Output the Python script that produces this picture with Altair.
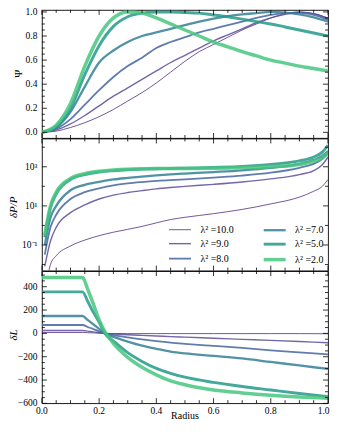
import altair as alt
import pandas as pd

# ---------------- data ----------------
LAMBDA_SQ = ["10.0", "9.0", "8.0", "7.0", "5.0", "2.0"]
LINE_COLORS = ["#5b3a87", "#5a4c9a", "#44659f", "#347f98", "#23998a", "#48c57f"]
LINE_WIDTHS = [1.0, 1.4, 1.8, 2.3, 2.9, 3.5]

RADIUS_PSI = [0.0, 0.05, 0.1, 0.15, 0.2, 0.25, 0.3, 0.35, 0.4, 0.45, 0.5,
              0.55, 0.6, 0.65, 0.7, 0.75, 0.8, 0.85, 0.9, 0.95, 1.0]
PSI = {
    "10.0": [0, 0.01, 0.04, 0.08, 0.13, 0.19, 0.26, 0.33, 0.41, 0.50, 0.59,
             0.67, 0.73, 0.79, 0.85, 0.90, 0.95, 0.985, 1.0, 0.985, 0.95],
    "9.0": [0, 0.02, 0.07, 0.14, 0.22, 0.30, 0.37, 0.44, 0.51, 0.58, 0.64,
            0.70, 0.76, 0.81, 0.86, 0.91, 0.95, 0.98, 0.995, 0.985, 0.945],
    "8.0": [0, 0.03, 0.11, 0.23, 0.35, 0.46, 0.55, 0.62, 0.70, 0.75, 0.79,
            0.83, 0.86, 0.89, 0.92, 0.95, 0.975, 0.99, 0.995, 0.975, 0.935],
    "7.0": [0, 0.04, 0.17, 0.38, 0.58, 0.68, 0.75, 0.80, 0.83, 0.86, 0.89,
            0.92, 0.945, 0.965, 0.98, 0.99, 1.0, 0.995, 0.98, 0.955, 0.92],
    "5.0": [0, 0.05, 0.2, 0.48, 0.72, 0.88, 0.96, 0.99, 1.0, 1.0, 0.995,
            0.99, 0.975, 0.96, 0.94, 0.92, 0.90, 0.875, 0.85, 0.825, 0.80],
    "2.0": [0, 0.06, 0.24, 0.55, 0.80, 0.95, 1.0, 0.99, 0.95, 0.90, 0.85,
            0.80, 0.75, 0.71, 0.67, 0.635, 0.60, 0.575, 0.55, 0.53, 0.51],
}

RADIUS_DP = [0.01, 0.03, 0.05, 0.1, 0.15, 0.2, 0.25, 0.3, 0.35, 0.4, 0.45,
             0.5, 0.6, 0.7, 0.8, 0.9, 0.95, 0.98, 1.0]
DP = {
    "10.0": [3.2e-4, 0.01, 0.028, 0.089, 0.178, 0.30, 0.45, 0.63, 0.89, 1.35, 2.0,
             2.6, 4.0, 6.6, 12.6, 28, 56, 100, 224],
    "9.0": [0.008, 0.16, 0.8, 4.5, 11.2, 22.4, 35.5, 48, 60, 74, 87,
            100, 126, 166, 240, 400, 630, 1260, 3160],
    "8.0": [0.032, 0.8, 3.5, 22.4, 50, 79, 112, 141, 166, 190, 209,
            229, 282, 355, 500, 890, 1410, 2500, 5000],
    "7.0": [0.1, 2.5, 10, 63, 120, 170, 224, 269, 316, 363, 407,
            447, 537, 661, 891, 1410, 2240, 3550, 6310],
    "5.0": [0.25, 7.9, 40, 224, 398, 537, 631, 708, 759, 794, 813,
            851, 933, 1050, 1320, 2000, 3160, 5620, 12600],
    "2.0": [0.32, 10, 50, 251, 447, 589, 692, 759, 794, 813, 813,
            813, 832, 891, 1000, 1320, 1910, 2820, 5010],
}

RADIUS_DL = [0.0, 0.142, 0.16, 0.18, 0.2, 0.22, 0.25, 0.3, 0.35, 0.4, 0.45,
             0.5, 0.6, 0.7, 0.8, 0.9, 1.0]
DL = {
    "10.0": [8, 8, 6, 4, 2, 0, -1, -2, -2, -2, -2, -2, -2, -2, -2, -2, -3],
    "9.0": [25, 25, 19, 13, 6, 0, -5, -12, -17, -22, -28, -32, -42, -51, -60, -70, -80],
    "8.0": [72, 72, 55, 37, 18, 0, -15, -35, -52, -67, -80, -90, -107, -125, -145, -163, -180],
    "7.0": [149, 149, 115, 77, 38, 0, -30, -70, -105, -132, -156, -172, -193, -215, -245, -275, -305],
    "5.0": [356, 356, 275, 180, 95, 0, -65, -165, -240, -300, -342, -375, -420, -455, -485, -515, -541],
    "2.0": [479, 479, 380, 250, 115, 15, -85, -205, -290, -355, -407, -440, -485, -510, -530, -545, -555],
}

X_MAJOR = [0.0, 0.2, 0.4, 0.6, 0.8, 1.0]
X_LABELS = ["0.0", "0.2", "0.4", "0.6", "0.8", "1.0"]
X_MINOR = [0.05, 0.1, 0.15, 0.25, 0.3, 0.35, 0.45, 0.5, 0.55, 0.65, 0.7, 0.75, 0.85, 0.9, 0.95]
PSI_MAJOR = [0.0, 0.2, 0.4, 0.6, 0.8, 1.0]
PSI_LABELS = ["0.0", "0.2", "0.4", "0.6", "0.8", "1.0"]
PSI_MINOR = [0.05, 0.1, 0.15, 0.25, 0.3, 0.35, 0.45, 0.5, 0.55, 0.65, 0.7, 0.75, 0.85, 0.9, 0.95]
DP_MAJOR = [0.1, 10, 1000]
DP_LABELS = ["10⁻¹", "10¹", "10³"]
DP_MINOR = [0.01, 1, 100, 10000]
DL_MAJOR = [-600, -400, -200, 0, 200, 400]
DL_LABELS = ["−600", "−400", "−200", "0", "200", "400"]
DL_MINOR = [-550, -500, -450, -350, -300, -250, -150, -100, -50, 50, 100, 150,
            250, 300, 350, 450, 500]

# ---------------- layout constants ----------------
W = 287
H1, H2, H3 = 128.5, 132.5, 132.5
FONT = "Liberation Serif"
TICK_MAJ, TICK_MIN = 5, 3
LABEL_SIZE = 9.5
TITLE_SIZE = 11


def label_of(l):
    return "λ² =" + l


def long_df(radius, table):
    rows = []
    for i, l in enumerate(LAMBDA_SQ):
        for r, v in zip(radius, table[l]):
            rows.append({"r": r, "v": v, "lam": label_of(l), "ord": i})
    return pd.DataFrame(rows)


color_domain = [label_of(l) for l in LAMBDA_SQ]
cscale = alt.Scale(type="ordinal", domain=color_domain, range=LINE_COLORS)
wscale = alt.Scale(type="ordinal", domain=color_domain, range=LINE_WIDTHS)
xscale = alt.Scale(domain=[0, 1], nice=False, zero=False)


def tick_layers(yscale, ymaj, ymin, H):
    # inward tick marks on all four sides
    layers = []
    for vals, L in ((X_MAJOR, TICK_MAJ), (X_MINOR, TICK_MIN)):
        base = alt.Chart(pd.DataFrame({"r": vals})).mark_rule(color="black", strokeWidth=0.8)
        xe = alt.X("r:Q", scale=xscale, axis=None)
        layers.append(base.encode(x=xe, y=alt.value(H), y2=alt.value(H - L)))
        layers.append(base.encode(x=xe, y=alt.value(0), y2=alt.value(L)))
    for vals, L in ((ymaj, TICK_MAJ), (ymin, TICK_MIN)):
        base = alt.Chart(pd.DataFrame({"v": vals})).mark_rule(color="black", strokeWidth=0.8)
        ye = alt.Y("v:Q", scale=yscale, axis=None)
        layers.append(base.encode(y=ye, x=alt.value(0), x2=alt.value(L)))
        layers.append(base.encode(y=ye, x=alt.value(W), x2=alt.value(W - L)))
    return layers


def ylabel_layer(yscale, vals, labels):
    return alt.Chart(pd.DataFrame({"v": vals, "lab": labels})).mark_text(
        align="right", baseline="middle", font=FONT, fontSize=LABEL_SIZE, color="black"
    ).encode(y=alt.Y("v:Q", scale=yscale, axis=None), x=alt.value(-4.5), text="lab:N")


def title_layer(text, x, y, italic):
    return alt.Chart(pd.DataFrame({"t": [text]})).mark_text(
        angle=270, align="center", baseline="middle", font=FONT, fontSize=TITLE_SIZE,
        fontStyle="italic" if italic else "normal", color="black"
    ).encode(x=alt.value(x), y=alt.value(y), text="t:N")


def panel(df, yscale, legend, ymaj, ymin, ylabels, H, title, tx, ty, italic, extra=()):
    lines = alt.Chart(df).mark_line(interpolate="monotone", opacity=0.85, clip=True).encode(
        x=alt.X("r:Q", scale=xscale, axis=None),
        y=alt.Y("v:Q", scale=yscale, axis=None),
        color=alt.Color("lam:N", scale=cscale, legend=legend),
        strokeWidth=alt.StrokeWidth("lam:N", scale=wscale, legend=legend),
    )
    return alt.layer(
        lines, *tick_layers(yscale, ymaj, ymin, H),
        ylabel_layer(yscale, ymaj, ylabels), title_layer(title, tx, ty, italic), *extra
    ).properties(width=W, height=H)


psi_scale = alt.Scale(domain=[-0.047, 1.017], nice=False, zero=False)
p1 = panel(long_df(RADIUS_PSI, PSI), psi_scale, None, PSI_MAJOR, PSI_MINOR, PSI_LABELS,
           H1, "Ψ", -23, 64, False)

legend = alt.Legend(orient="none", legendX=131, legendY=85, columns=2, title=None,
                    symbolType="M-2,0L2,0", symbolSize=121, labelFont=FONT, labelFontSize=10,
                    labelOffset=13, columnPadding=22, rowPadding=2, symbolOpacity=0.85,
                    padding=0, labelColor="black", labelLimit=0)

dp_scale = alt.Scale(type="log", domain=[0.0049, 28000], nice=False)
p2 = panel(long_df(RADIUS_DP, DP), dp_scale, legend, DP_MAJOR, DP_MINOR, DP_LABELS,
           H2, "δP/P", -27.5, 69, True)

xlab_style = dict(baseline="top", font=FONT, fontSize=LABEL_SIZE, color="black")
xlabels = alt.Chart(pd.DataFrame({"r": X_MAJOR[:-1], "lab": X_LABELS[:-1]})).mark_text(
    align="center", **xlab_style
).encode(x=alt.X("r:Q", scale=xscale, axis=None), y=alt.value(H3 + 2.5), text="lab:N")
xlabel_last = alt.Chart(pd.DataFrame({"r": X_MAJOR[-1:], "lab": X_LABELS[-1:]})).mark_text(
    align="right", dx=1.5, **xlab_style
).encode(x=alt.X("r:Q", scale=xscale, axis=None), y=alt.value(H3 + 2.5), text="lab:N")
xtitle = alt.Chart(pd.DataFrame({"t": ["Radius"]})).mark_text(
    align="center", baseline="middle", font=FONT, fontSize=10, color="black"
).encode(x=alt.value(W / 2), y=alt.value(H3 + 13), text="t:N")

dl_scale = alt.Scale(domain=[-598, 534], nice=False, zero=False)
p3 = panel(long_df(RADIUS_DL, DL), dl_scale, None, DL_MAJOR, DL_MINOR, DL_LABELS,
           H3, "δL", -27.5, 64, True, extra=(xlabels, xlabel_last, xtitle))

chart = (
    alt.vconcat(p1, p2, p3, spacing=0, bounds="flush")
    .resolve_scale(x="independent", y="independent", color="independent", strokeWidth="independent")
    .resolve_legend(color="independent", strokeWidth="independent")
    .properties(padding={"left": 0, "top": -2.75, "right": 0, "bottom": 0})
    .configure_view(stroke="black", strokeWidth=0.9)
)

chart.save("out.html", embed_options={"renderer": "svg", "actions": False})
